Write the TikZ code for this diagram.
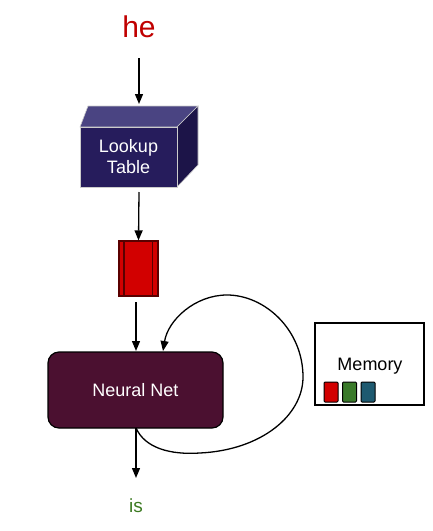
\documentclass[tikz,border=0pt]{standalone}
\usepackage{fontspec}
\setmainfont{Liberation Sans}
\usetikzlibrary{arrows.meta}
\definecolor{heRed}{HTML}{C00000}
\definecolor{cubeFront}{HTML}{261C5C}
\definecolor{cubeTop}{HTML}{4A4482}
\definecolor{cubeSide}{HTML}{1C1448}
\definecolor{nnFill}{HTML}{4B1030}
\definecolor{isGreen}{HTML}{3C7A22}
\definecolor{vecRed}{HTML}{D20000}
\definecolor{vecEdge}{HTML}{5A0000}
\definecolor{memGreen}{HTML}{3A7A2A}
\definecolor{memBlue}{HTML}{1E5A70}
\tikzset{
  conn/.style={line width=1.3pt, -{Triangle[length=10pt,width=8pt]}},
  lbl/.style={font=\fontsize{18}{20}\selectfont, inner sep=0pt},
  facestyle/.style={draw=white!60!gray, line width=0.6pt},
  membar/.style={draw=black, line width=1pt, rounded corners=1pt, minimum width=14pt, minimum height=20pt, inner sep=0pt}
}
\begin{document}
\begin{tikzpicture}[x=1pt,y=-1pt]
\useasboundingbox (0,0) rectangle (432,531);
% word
\node[font=\fontsize{30}{32}\selectfont, text=heRed, inner sep=0pt] (he) at (139,27) {he};
\coordinate (hs) at (139,58);
\coordinate (cubetop) at (139,104);
% cube
\fill[cubeTop, facestyle] (80,127) -- (88,106) -- (198,106) -- (177,127) -- cycle;
\fill[cubeSide, facestyle] (177,127) -- (198,106) -- (198,165) -- (177,187) -- cycle;
\node[fill=cubeFront, facestyle, minimum width=97pt, minimum height=60pt, inner sep=0pt,
      text=white, align=center, font=\fontsize{18}{21}\selectfont] (lt) at (128.5,157) {Lookup\\Table};
% vector
\node[fill=vecRed, draw=vecEdge, line width=1.2pt, minimum width=39pt, minimum height=55pt, inner sep=0pt] (vec) at (138.5,268.5) {};
\draw[vecEdge, line width=1.2pt] ([xshift=5.5pt]vec.north west) -- ([xshift=5.5pt]vec.south west);
\draw[vecEdge, line width=1.2pt] ([xshift=-6pt]vec.north east) -- ([xshift=-6pt]vec.south east);
% neural net
\node[fill=nnFill, draw=black, line width=1.2pt, rounded corners=11pt, minimum width=175pt, minimum height=76pt, inner sep=0pt,
      text=white, lbl] (nn) at (135.5,390) {Neural Net};
% output
\node[font=\fontsize{19}{21}\selectfont, inner sep=0pt, text=isGreen] (is) at (136,506) {is};
% memory
\node[draw=black, line width=1.3pt, fill=white, minimum width=109pt, minimum height=82pt, inner sep=0pt] (mem) at (369.5,364) {};
\node[lbl] (memtxt) at (370,366) {Memory};
\node[membar, fill=vecRed] (m1) at (331,392) {};
\node[membar, fill=memGreen] (m2) at (349.5,392) {};
\node[membar, fill=memBlue] (m3) at (368,392) {};
% connectors
\draw[conn] (hs) -- (cubetop);
\coordinate (lts) at (139,192);
\draw[conn] (lts) -- (vec.north);
\coordinate (vs) at (136,302);
\coordinate (nnin) at (136,351);
\draw[conn] (vs) -- (nnin);
\coordinate (nnout) at (136,428);
\coordinate (isin) at (136,478);
\draw[conn] (nnout) -- (isin);
\coordinate (loopend) at (163,351);
\draw[conn] (nnout) .. controls (145,448) and (170,455) .. (200,453)
  .. controls (262,450) and (303,415) .. (303,377)
  .. controls (303,330) and (265,295) .. (227,295)
  .. controls (195,295) and (168,320) .. (loopend);
\end{tikzpicture}
\end{document}
